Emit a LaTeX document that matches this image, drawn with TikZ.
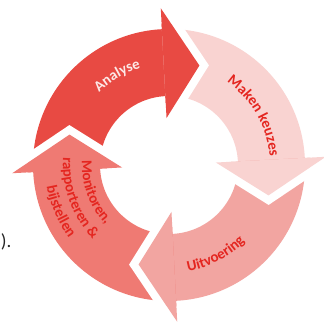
\documentclass[tikz,border=0pt]{standalone}
\usepackage{fontspec}
\setmainfont{Carlito}
\usetikzlibrary{decorations.text}
\definecolor{cA}{RGB}{232,74,67}
\definecolor{cM}{RGB}{249,211,209}
\definecolor{cU}{RGB}{242,165,161}
\definecolor{cR}{RGB}{239,122,115}
\definecolor{txtred}{RGB}{228,38,32}
\definecolor{txtA}{RGB}{252,232,230}
\newcommand\fA{\color{txtA}\bfseries\fontsize{15}{18}\selectfont}
\newcommand\fR{\color{txtred}\bfseries\fontsize{15}{18}\selectfont}
\begin{document}
\begin{tikzpicture}[x=1bp,y=1bp,
  gapline/.style={white, line width=16bp, line join=miter, miter limit=20},
  arclabel/.style={decorate, decoration={text along path, text align=center, text={#1}}}]
\fill[white] (0,0) rectangle (324,323);
\useasboundingbox (0,0) rectangle (324,323);
\node[anchor=base east, font=\fontsize{19}{22}\selectfont, text=black!85, inner sep=0pt] (paren) at (11.5,76) {).};
\begin{scope}[shift={(169,158)}]
  % bodies with heads
  \foreach \T/\c in {73/cA, -17/cM, -107/cU, 163/cR} {
    \pgfmathsetmacro\B{\T+20}
    \pgfmathsetmacro\S{\T+110}
    \fill[\c] (\S:136) arc[start angle=\S, end angle=\B, radius=136]
      -- (\B:157) -- (\T:104) -- (\B:47) -- (\B:69)
      arc[start angle=\B, end angle=\S, radius=69] -- cycle;
  }
  % heads on top with white gap
  \foreach \T/\c in {73/cA, -17/cM, -107/cU, 163/cR} {
    \pgfmathsetmacro\B{\T+20}
    \draw[gapline] (\B:157) -- (\T:104) -- (\B:47);
    \fill[\c] (\B:157) -- (\T:104) -- (\B:47) -- cycle;
  }
  % labels
  \path[arclabel={|\fA|Analyse}] (160:101) arc[start angle=160, end angle=80, radius=101];
  \path[arclabel={|\fR|Maken keuzes}] (75:101) arc[start angle=75, end angle=-15, radius=101];
  \path[arclabel={|\fR|Uitvoering}] (-108:108) arc[start angle=-108, end angle=-17, radius=108];
  \path[arclabel={|\fR|Monitoren,}] (155:87) arc[start angle=155, end angle=245, radius=87];
  \path[arclabel={|\fR|rapporteren {\&}}] (155:106) arc[start angle=155, end angle=245, radius=106];
  \path[arclabel={|\fR|bijstellen}] (158:124) arc[start angle=158, end angle=248, radius=124];
\end{scope}
\end{tikzpicture}
\end{document}
